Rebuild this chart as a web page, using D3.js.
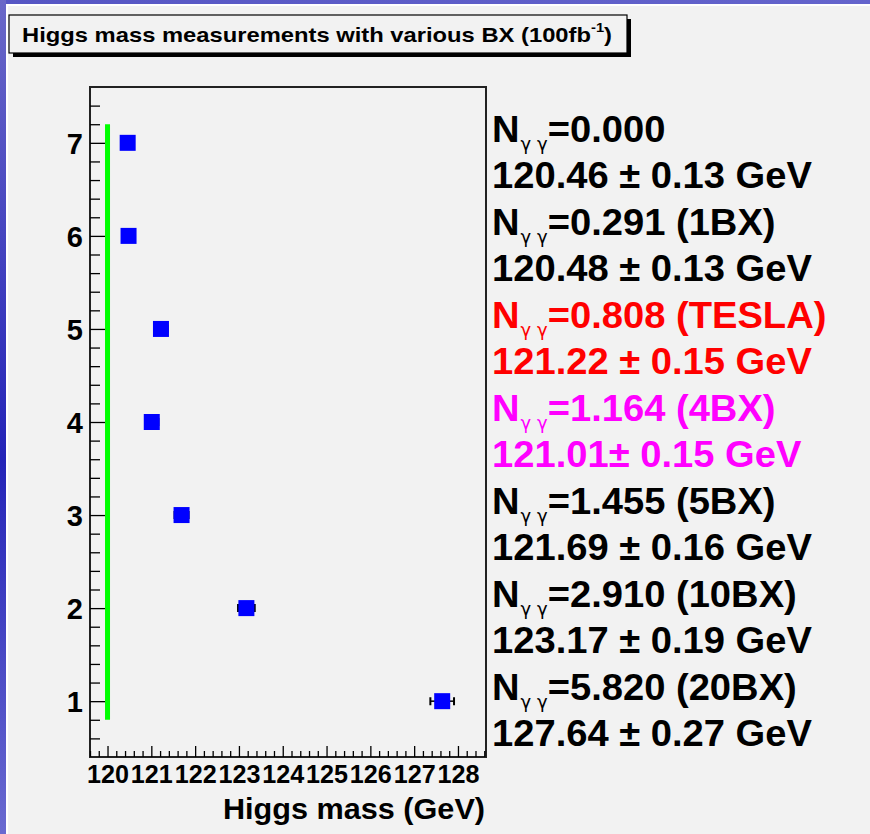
<!DOCTYPE html>
<html lang="en">
<head>
<meta charset="utf-8">
<script src="https://cdn.jsdelivr.net/npm/d3@7"></script>
<style>
  body { margin: 0; background: #f2f2f2; }
  svg { display: block; font-family: 'Liberation Sans', Arial, sans-serif; font-weight: bold; }
  .axis path { display: none; }
  .axis line { stroke: #000; stroke-width: 1.3px; }
</style>
</head>
<body>
<svg width="870" height="834"></svg>
<script>
// measurements, one per bunch-crossing setting
const rows      = [7, 6, 5, 4, 3, 2, 1];
const masses    = [120.46, 120.48, 121.22, 121.01, 121.69, 123.17, 127.64];
const errors    = [0.13, 0.13, 0.15, 0.15, 0.16, 0.19, 0.27];
const nGG       = ["0.000", "0.291", "0.808", "1.164", "1.455", "2.910", "5.820"];
const bxTags    = ["", " (1BX)", " (TESLA)", " (4BX)", " (5BX)", " (10BX)", " (20BX)"];
const trueMass  = 120.0;
const trueSpan  = [0.8, 7.2];
const xTicks    = [120, 121, 122, 123, 124, 125, 126, 127, 128];
const yTicks    = [1, 2, 3, 4, 5, 6, 7];

const svg = d3.select("svg");
const W = 870, H = 834;
const FONT = "'Liberation Sans', Arial, sans-serif";

// canvas background with the slide border
const defs = svg.append("defs");
const gl = defs.append("linearGradient").attr("id", "leftBar").attr("x1", 0).attr("y1", 0).attr("x2", 0).attr("y2", 1);
gl.append("stop").attr("offset", "0%").attr("stop-color", "#6a68c8");
gl.append("stop").attr("offset", "55%").attr("stop-color", "#2424b8");
gl.append("stop").attr("offset", "100%").attr("stop-color", "#6a6ad0");
const gt = defs.append("linearGradient").attr("id", "topBar");
gt.append("stop").attr("offset", "0%").attr("stop-color", "#5656c4");
gt.append("stop").attr("offset", "100%").attr("stop-color", "#6464cc");

svg.append("rect").attr("width", W).attr("height", H).attr("fill", "#f2f2f2");
svg.append("rect").attr("width", W).attr("height", 6).attr("fill", "#fff");
svg.append("rect").attr("width", 8).attr("height", H).attr("fill", "#fff");
svg.append("rect").attr("width", W).attr("height", 4).attr("fill", "url(#topBar)");
svg.append("rect").attr("width", 6).attr("height", H).attr("fill", "url(#leftBar)");

// title box
svg.append("rect").attr("x", 13).attr("y", 19).attr("width", 618).attr("height", 38).attr("fill", "#000");
svg.append("rect").attr("x", 9).attr("y", 15).attr("width", 618).attr("height", 38)
  .attr("fill", "#f2f2f2").attr("stroke", "#000").attr("stroke-width", 1.2);
const title = svg.append("text").attr("x", 22).attr("y", 42).attr("font-size", 21)
  .attr("textLength", 590).attr("lengthAdjust", "spacingAndGlyphs");
title.append("tspan").text("Higgs mass measurements with various BX (100fb");
title.append("tspan").attr("font-size", 13).attr("dy", -10).text("-1");
title.append("tspan").attr("dy", 10).text(")");

// plot frame
const frame = { left: 90, right: 486, top: 87, bottom: 757 };
const x = d3.scaleLinear().domain([119.6, 128.64]).range([frame.left, frame.right]);
const y = d3.scaleLinear().domain([0.4, 7.6]).range([frame.bottom, frame.top]);

svg.append("rect").attr("x", frame.left).attr("y", frame.top)
  .attr("width", frame.right - frame.left).attr("height", frame.bottom - frame.top)
  .attr("fill", "#f2f2f2").attr("stroke", "#222").attr("stroke-width", 2);

// x axis: minor + major ticks pointing into the frame
const xMinor = d3.range(119.6, 128.64, 0.2).filter(v => Math.abs(v - Math.round(v)) > 0.01);
svg.append("g").attr("class", "axis").attr("transform", `translate(0,${frame.bottom})`)
  .call(d3.axisBottom(x).tickValues(xMinor).tickSizeInner(-6).tickFormat(""));
svg.append("g").attr("class", "axis").attr("transform", `translate(0,${frame.bottom})`)
  .call(d3.axisBottom(x).tickValues(xTicks).tickSizeInner(-11).tickFormat(d3.format("d")))
  .selectAll("text")
  .attr("y", 26).attr("dy", 0)
  .attr("font-size", 26).attr("fill", "#000").attr("font-weight", "bold").attr("font-family", FONT)
  .attr("textLength", 42).attr("lengthAdjust", "spacingAndGlyphs");

svg.append("text").attr("x", 485).attr("y", 819).attr("text-anchor", "end")
  .attr("font-size", 30).attr("textLength", 262).attr("lengthAdjust", "spacingAndGlyphs")
  .text("Higgs mass (GeV)");

// y axis
const yMinor = d3.range(0.6, 7.6, 0.2).filter(v => Math.abs(v - Math.round(v)) > 0.01);
svg.append("g").attr("class", "axis").attr("transform", `translate(${frame.left},0)`)
  .call(d3.axisLeft(y).tickValues(yMinor).tickSizeInner(-10).tickFormat(""));
svg.append("g").attr("class", "axis").attr("transform", `translate(${frame.left},0)`)
  .call(d3.axisLeft(y).tickValues(yTicks).tickSizeInner(-15).tickPadding(7).tickFormat(d3.format("d")))
  .selectAll("text").attr("font-size", 29).attr("fill", "#000").attr("font-weight", "bold")
  .attr("dy", "0.36em").attr("font-family", FONT);

// reference (generated) mass
svg.append("line")
  .attr("x1", x(trueMass)).attr("x2", x(trueMass))
  .attr("y1", y(trueSpan[0])).attr("y2", y(trueSpan[1]))
  .attr("stroke", "#00ff00").attr("stroke-width", 5);

// measurements with error bars
const pts = rows.map((r, i) => ({ row: r, m: masses[i], e: errors[i], n: nGG[i], tag: bxTags[i] }));
const pg = svg.append("g");
pg.selectAll("line.err").data(pts).join("line").attr("class", "err")
  .attr("x1", d => x(d.m - d.e)).attr("x2", d => x(d.m + d.e))
  .attr("y1", d => y(d.row)).attr("y2", d => y(d.row))
  .attr("stroke", "#000").attr("stroke-width", 1.5);
pg.selectAll("path.cap").data(pts).join("path").attr("class", "cap")
  .attr("d", d => `M${x(d.m - d.e)},${y(d.row) - 4}v8M${x(d.m + d.e)},${y(d.row) - 4}v8`)
  .attr("stroke", "#000").attr("stroke-width", 2);
pg.selectAll("rect.mk").data(pts).join("rect").attr("class", "mk")
  .attr("x", d => x(d.m) - 8).attr("y", d => y(d.row) - 8)
  .attr("width", 16).attr("height", 16).attr("fill", "#0000ff");

// right-hand legend text, two lines per measurement
const colourOf = d => d.tag === " (TESLA)" ? "#ff0000" : d.tag === " (4BX)" ? "#ff00ff" : "#000";
const lg = svg.append("g").attr("font-size", 36)
  .attr("transform", "translate(492,0) scale(1.06,1) translate(-492,0)");
pts.forEach((d, i) => {
  const base = 142 + i * 93;
  const t1 = lg.append("text").attr("x", 492).attr("y", base).attr("fill", colourOf(d));
  t1.append("tspan").text("N");
  t1.append("tspan").attr("font-size", 17).attr("font-weight", "normal")
    .attr("font-family", "'DejaVu Sans', sans-serif").attr("dy", 8).attr("dx", 1).text("γ γ");
  t1.append("tspan").attr("dy", -8).text(`=${d.n}${d.tag}`);
  const gap = d.tag === " (4BX)" ? "" : " ";
  lg.append("text").attr("x", 492).attr("y", base + 46.5).attr("fill", colourOf(d))
    .text(`${d.m.toFixed(2)}${gap}± ${d.e.toFixed(2)} GeV`);
});
</script>
</body>
</html>
